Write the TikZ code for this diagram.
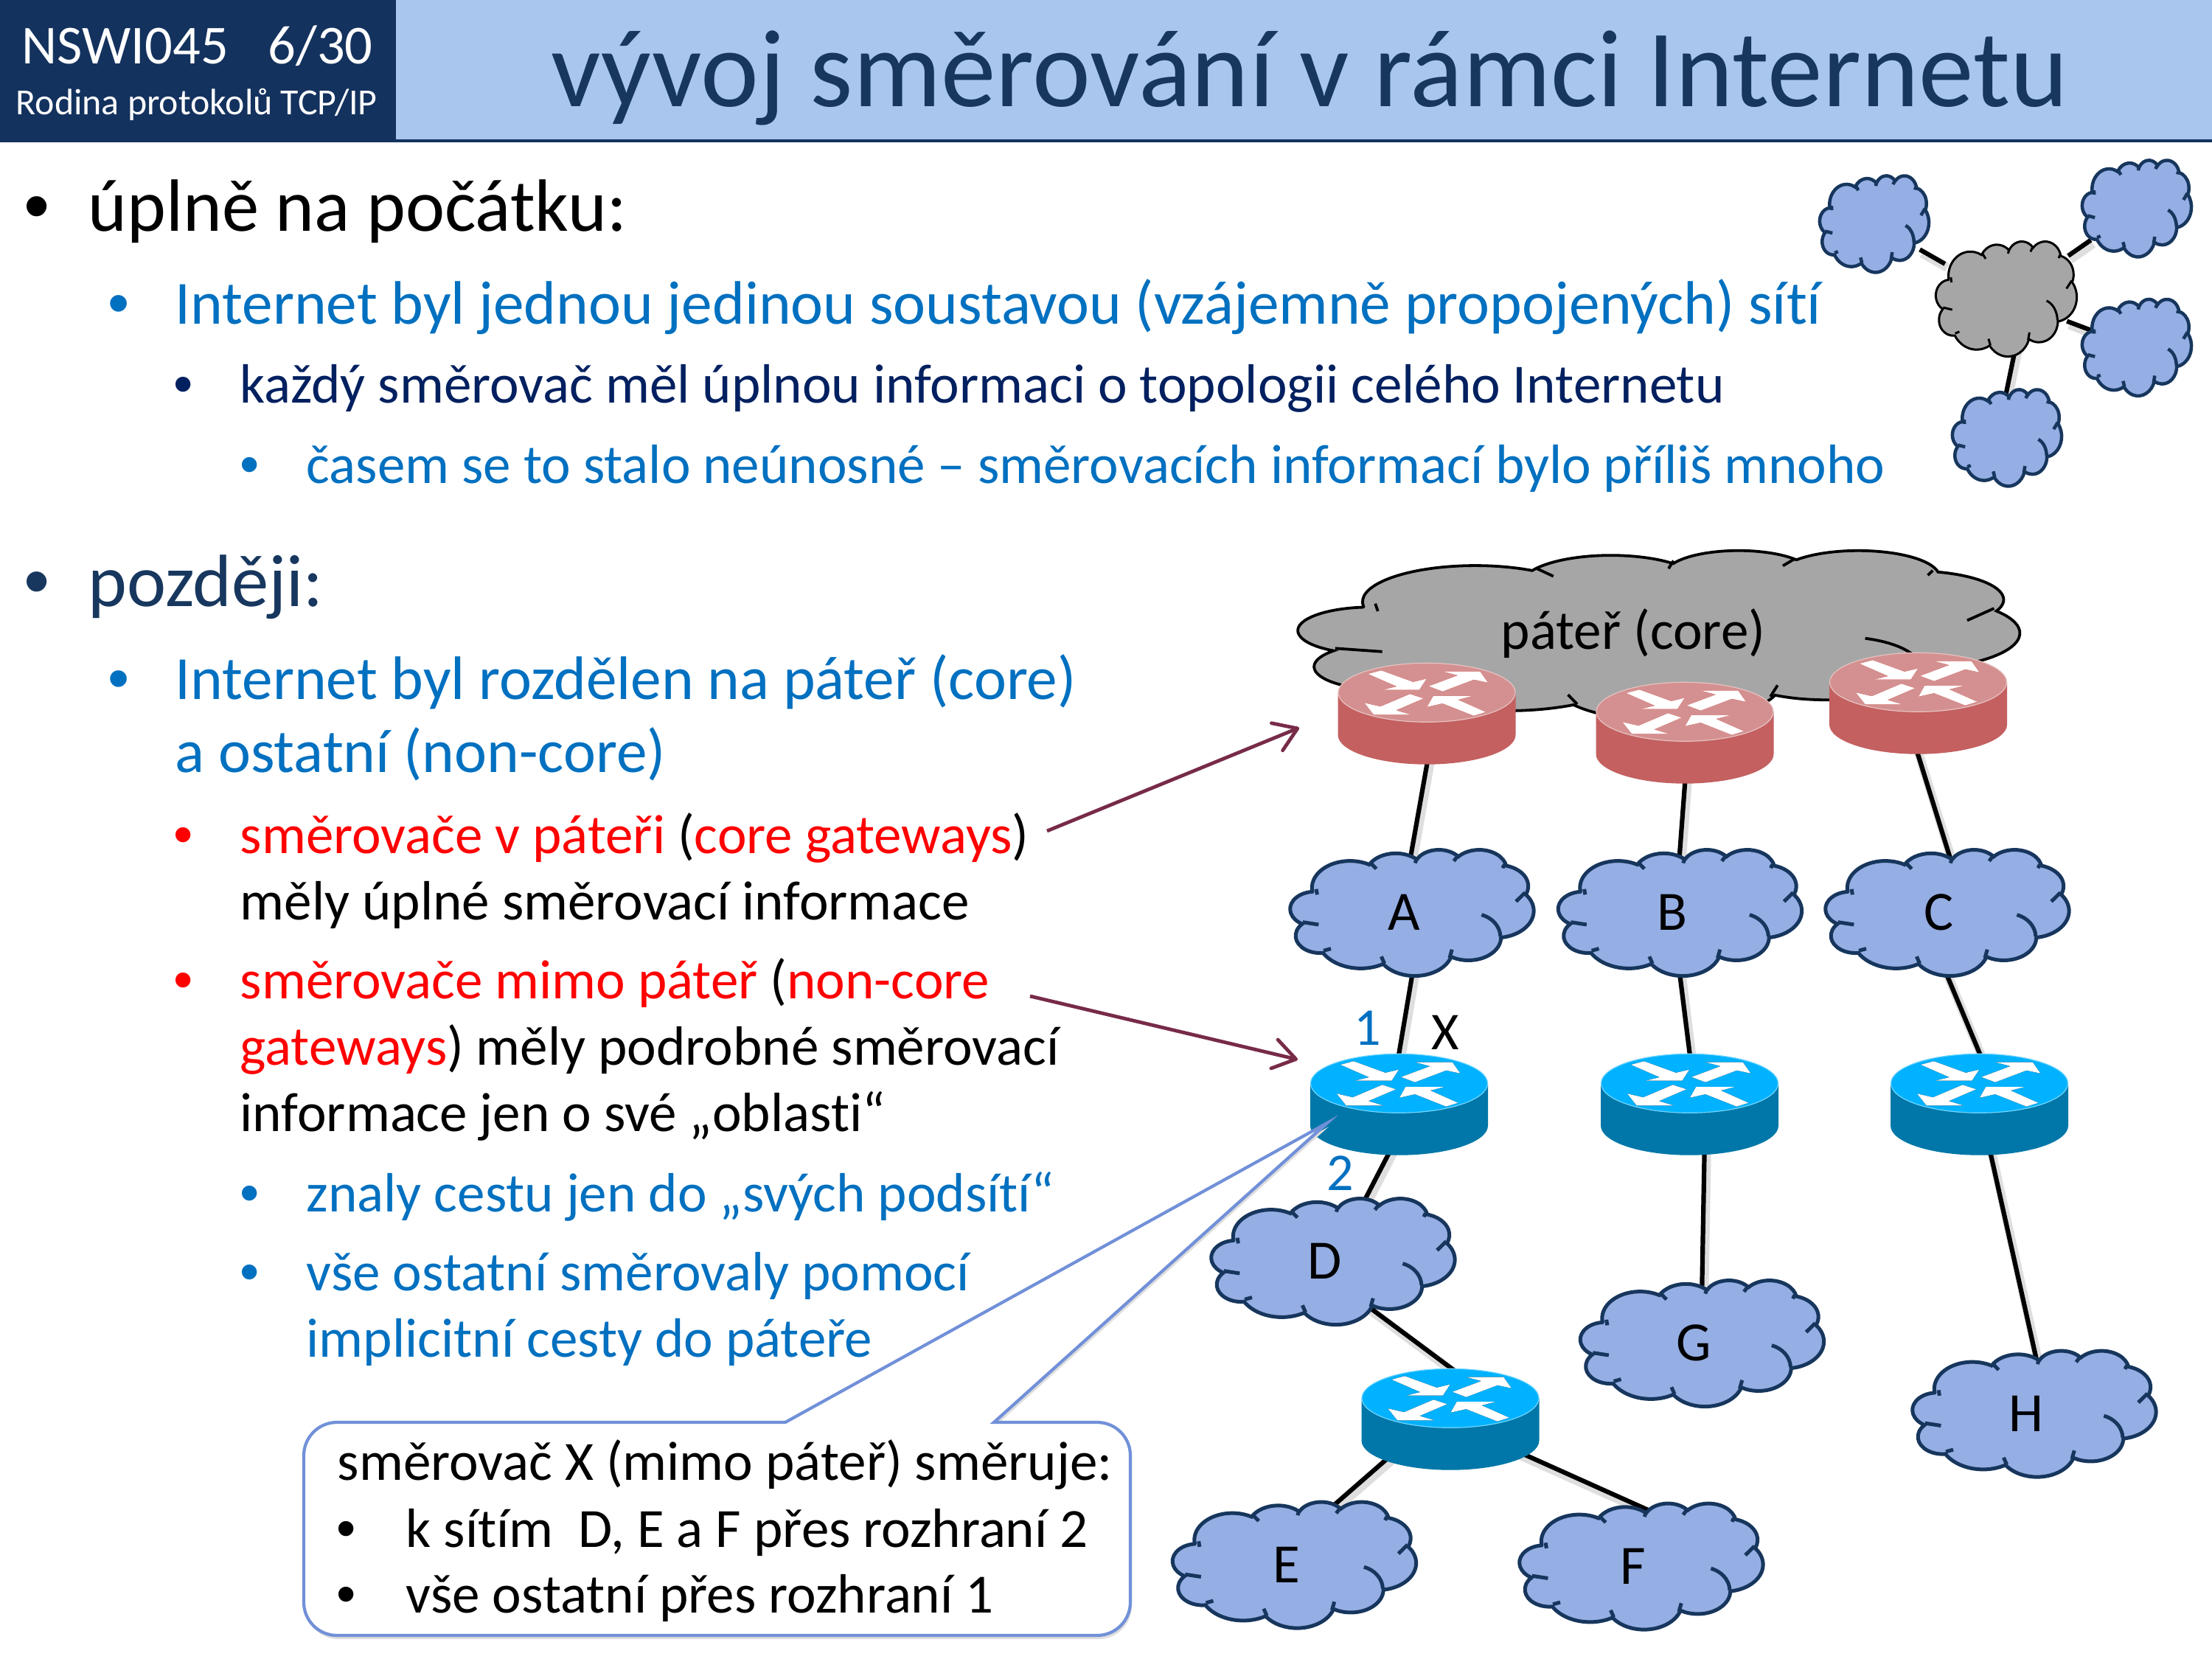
\documentclass[tikz,border=0pt]{standalone}
\usepackage{fontspec}
\setmainfont{Carlito}[Ligatures=CommonOff]
\newfontfamily\bulletfont{Liberation Sans}
\usetikzlibrary{arrows.meta,backgrounds}
\definecolor{headdark}{HTML}{14325E}
\definecolor{headlight}{HTML}{A9C6EE}
\definecolor{titlenavy}{HTML}{17375E}
\definecolor{textblue}{HTML}{0070C0}
\definecolor{textnavy}{HTML}{002060}
\definecolor{cloudblue}{HTML}{95AEE4}
\definecolor{cloudedge}{HTML}{17365D}
\definecolor{cloudgrey}{HTML}{A6A6A6}
\definecolor{edgetop}{HTML}{00B2FF}
\definecolor{edgeside}{HTML}{0077A8}
\definecolor{coretop}{HTML}{D49090}
\definecolor{coreside}{HTML}{C46060}
\definecolor{coremark}{HTML}{C00000}
\definecolor{pointer}{HTML}{772B48}
\definecolor{calloutline}{HTML}{7190D8}
\newcommand\cloudoutline{(-1.77,-.723)
  arc[x radius=.6753,y radius=.9190,start angle=-187.745,delta angle=128.105]
  arc[x radius=.5333,y radius=.7267,start angle=-152.02,delta angle=106.57]
  arc[x radius=.4365,y radius=.5945,start angle=-153.49,delta angle=116.16]
  arc[x radius=.4857,y radius=.6595,start angle=-139.71,delta angle=129.50]
  arc[x radius=.5333,y radius=.7273,start angle=-74.77,delta angle=97.98]
  arc[x radius=.6775,y radius=.9220,start angle=-37.52,delta angle=119.39]
  arc[x radius=.5785,y radius=.7867,start angle=.46,delta angle=121.52]
  arc[x radius=.6752,y radius=.9215,start angle=16.85,delta angle=129.39]
  arc[x radius=.7720,y radius=1.0543,start angle=58.98,delta angle=91.20]
  arc[x radius=.4360,y radius=.5918,start angle=83.31,delta angle=139.80]
  arc[x radius=.4345,y radius=.5945,start angle=120.35,delta angle=143.76] -- cycle}
\newcommand\cloudstubs{(-1.658,.417)--(-1.94,.333) (-1.44,1.24)--(-1.57,1.31) (-.545,1.51)--(-.49,1.75) (.71,1.27)--(.667,1.56)
  (1.235,.08) .. controls (1.42,.18) and (1.56,.46) .. (1.57,.82) (1.846,-.375)--(2.007,-.68)
  (1.61,-1.52)--(1.64,-1.64) (.742,-1.76)--(.81,-1.93) (.057,-1.69)--(.087,-1.89) (-.633,-1.495)--(-.74,-1.706) (-1.684,-.61)--(-1.70,-.8)}
\newcommand\routermarks{(-.795,.54)--(-.618,.587)--(-.185,.43)--(-.005,.473)--(-.102,.323)--(-.595,.323)--(-.405,.37)--cycle
  (.028,.373)--(.422,.52)--(.222,.573)--(.722,.573)--(.828,.423)--(.638,.463)--(.215,.303)--cycle
  (-.045,.207)--(-.228,.267)--(-.628,.097)--(-.845,.147)--(-.718,-.013)--(-.218,-.013)--(-.418,.047)--cycle
  (.798,.023)--(.422,.19)--(.615,.24)--(.088,.24)--(.005,.093)--(.215,.14)--(.638,-.027)--cycle}
\tikzset{
  pics/cloudshape/.style n args={5}{code={
    \begin{scope}[xscale=#1/4.32,yscale=-#2/4.32]
      \filldraw[fill=#3,draw=#4,line width=#5]\cloudoutline;
      \draw[draw=#4,line width=#5]\cloudstubs;
    \end{scope}}},
  pics/bignet/.style={code={\pic{cloudshape={3.30}{1.71}{cloudblue}{cloudedge}{.05cm}};}},
  pics/smallnet/.style={code={\pic{cloudshape={1.48}{1.31}{cloudblue}{cloudedge}{.045cm}};}},
  netlabel/.style={inner sep=0pt,minimum width=3.3cm,minimum height=1.71cm,font=\fontsize{21.4}{26}\selectfont},
  leaflabel/.style={inner sep=0pt,minimum width=1.48cm,minimum height=1.31cm},
  routerbox/.style n args={3}{inner sep=0pt,minimum width=2.42cm,minimum height=1.39cm,
    path picture={
      \fill[#2](-1.205,.287)--(-1.205,-.287) arc[x radius=1.205,y radius=.4,start angle=180,end angle=360]--(1.205,.287)--cycle;
      \filldraw[fill=#1,draw=#1!55!white,line width=.012cm](0,.287) ellipse[x radius=1.2,y radius=.4];
      \fill[#3,yshift=.012cm]\routermarks;
      \fill[white]\routermarks;
    }},
  corerouter/.style={routerbox={coretop}{coreside}{coremark}},
  edgerouter/.style={routerbox={edgetop}{edgeside}{black}},
  link/.style={line width=.062cm,shorten >=-.15cm,shorten <=-.15cm,
    preaction={draw=black!13,line width=.12cm,transform canvas={shift={(.03cm,-.05cm)}}}},
  pointerline/.style={pointer,line width=.048cm,-{Straight Barb[length=.3cm,width=.4cm,round]}},
  calloutbox/.style={draw=calloutline,fill=white,line width=.042cm,
    preaction={fill=black!13,transform canvas={shift={(.02cm,-.05cm)}}}},
  linetext/.style={inner sep=0pt,anchor=base west},
  levelone/.style={linetext,font=\fontsize{28.6}{34}\selectfont},
  leveltwo/.style={linetext,text=textblue,font=\fontsize{23.7}{28}\selectfont},
  levelthree/.style={linetext,font=\fontsize{21.36}{26}\selectfont},
  levelfour/.style={linetext,text=textblue,font=\fontsize{21.36}{26}\selectfont},
}
\begin{document}
\begin{tikzpicture}
\useasboundingbox(0,0) rectangle (30,-22.5);
% header
\fill[headlight](5.36,0) rectangle (30,-1.89);
\fill[headdark](0,-1.89) rectangle (30,-1.93);
\fill[headdark](0,0) rectangle (5.37,-1.93);
\node[linetext,text=white,font=\fontsize{21.2}{24}\selectfont](course)at(.29,-.87){NSWI045\hspace{.72em}6/30};
\node[linetext,text=white,font=\fontsize{14.2}{18}\selectfont](family)at(.21,-1.56){Rodina protokolů TCP/IP};
\node[inner sep=0pt,anchor=base,text=titlenavy,font=\fontsize{42.5}{50}\selectfont](title)at(17.76,-1.45){vývoj směrování v rámci Internetu};
% text lines
\node[levelone](early)at(1.19,-3.14){úplně na počátku:};
\node[leveltwo](earlyA)at(2.37,-4.40){Internet byl jednou jedinou soustavou (vzájemně propojených) sítí};
\node[levelthree,text=textnavy](earlyB)at(3.25,-5.47){každý směrovač měl úplnou informaci o topologii celého Internetu};
\node[levelfour](earlyC)at(4.15,-6.56){časem se to stalo neúnosné – směrovacích informací bylo příliš mnoho};
\node[levelone,text=titlenavy](later)at(1.19,-8.23){později:};
\node[leveltwo](laterA)at(2.37,-9.49){Internet byl rozdělen na páteř (core)};
\node[leveltwo](laterB)at(2.37,-10.48){a ostatní (non-core)};
\node[levelthree](coreA)at(3.25,-11.57){\textcolor{red}{směrovače v páteři} (\textcolor{red}{core gateways})};
\node[levelthree](coreB)at(3.25,-12.47){měly úplné směrovací informace};
\node[levelthree](nonA)at(3.25,-13.54){\textcolor{red}{směrovače mimo páteř} (\textcolor{red}{non-core}};
\node[levelthree](nonB)at(3.25,-14.44){\textcolor{red}{gateways}) měly podrobné směrovací};
\node[levelthree](nonC)at(3.25,-15.34){informace jen o své „oblasti“};
\node[levelfour](pathA)at(4.15,-16.43){znaly cestu jen do „svých podsítí“};
\node[levelfour](pathB)at(4.15,-17.50){vše ostatní směrovaly pomocí};
\node[levelfour](pathC)at(4.15,-18.40){implicitní cesty do páteře};
% small clouds
\pic at(27.21,-4.05){cloudshape={1.91}{1.56}{cloudgrey}{black}{.03cm}};
\node[inner sep=0pt,minimum width=1.91cm,minimum height=1.56cm](hub)at(27.21,-4.05){};
\foreach\n/\x/\y in{leafW/25.42/-3.035,leafN/28.98/-2.825,leafE/28.98/-4.71,leafS/27.22/-5.935}
  {\pic at(\x,\y){smallnet};\node[leaflabel](\n)at(\x,\y){};}
% core
\pic at(22.50,-8.615){cloudshape={9.78}{2.31}{cloudgrey}{black}{.038cm}};
\node[inner sep=0pt,anchor=base,font=\fontsize{21.36}{26}\selectfont](backbone)at(22.15,-8.81){páteř (core)};
\node[corerouter](routerA)at(19.35,-9.68){};
\node[corerouter](routerB)at(22.85,-9.94){};
\node[corerouter](routerC)at(26.015,-9.54){};
% networks
\foreach\n/\x/\y/\t in{netA/19.15/-12.375/A,netB/22.785/-12.375/B,netC/26.41/-12.375/C,netD/18.08/-17.105/D,
  netG/23.085/-18.215/G,netH/27.59/-19.17/H,netE/17.555/-21.22/E,netF/22.26/-21.24/F}
  {\pic at(\x,\y){bignet};\node[netlabel](\n)at(\x,\y){\t\kern.22cm};}
\node[edgerouter](routerX)at(18.975,-14.98){};
\node[edgerouter](routerY)at(22.915,-14.98){};
\node[edgerouter](routerZ)at(26.845,-14.98){};
\node[edgerouter](routerW)at(19.67,-19.25){};
\node[inner sep=0pt,anchor=base,text=textblue,font=\fontsize{20.5}{24}\selectfont](ifOne)at(18.55,-14.175){1};
\node[inner sep=0pt,anchor=base,font=\fontsize{20.5}{24}\selectfont](nameX)at(19.60,-14.23){X};
\node[inner sep=0pt,anchor=base,text=textblue,font=\fontsize{20.5}{24}\selectfont](ifTwo)at(18.18,-16.14){2};
% pointers and callout
\coordinate(fromCore)at(14.20,-11.27);\coordinate(toCore)at(17.62,-9.87);
\coordinate(fromNon)at(13.97,-13.51);\coordinate(toNon)at(17.60,-14.37);
\draw[pointerline](fromCore)--(toCore);
\draw[pointerline](fromNon)--(toNon);
\coordinate(calloutTip)at(18.00,-15.23);
\draw[calloutbox](calloutTip)--(13.48,-19.29)[rounded corners=.45cm]--(15.33,-19.29)--(15.33,-22.18)--(4.12,-22.18)--(4.12,-19.29)[sharp corners]--(10.65,-19.29)--cycle;
\node[levelthree](calloutHead)at(4.57,-20.07){směrovač X (mimo páteř) směruje:};
\node[levelthree](calloutOne)at(5.50,-20.98){k sítím\hspace{.45em}D, E a F přes rozhraní 2};
\node[levelthree](calloutTwo)at(5.50,-21.87){vše ostatní přes rozhraní 1};
% bullets
\foreach\i/\x/\y/\s/\c in{1/.5/3.14/28.6/black,2/1.61/4.40/23.7/textblue,3/2.49/5.47/21.36/textnavy,4/3.39/6.56/21.36/textblue,
  5/.5/8.23/28.6/titlenavy,6/1.61/9.49/23.7/textblue,7/2.49/11.57/21.36/red,8/2.49/13.54/21.36/red,9/3.39/16.43/21.36/textblue,10/3.39/17.50/21.36/textblue,
  11/4.70/20.98/21.36/black,12/4.70/21.87/21.36/black}
  {\node[inner sep=0pt,anchor=base,text=\c,font=\bulletfont\fontsize{\s}{\s}\selectfont](mark\i)at(\x,-\y){•};}
% connectors under everything
\begin{pgfonlayer}{background}
\draw[link](leafW)--(hub);\draw[link](hub)--(leafN);\draw[link](hub)--(leafE);
\draw[link]([xshift=.1cm]hub.south)--(leafS.north);
\draw[link](routerA.south)--(netA.north);
\draw[link](routerB.south)--(netB.north);
\draw[link](routerC.south)--(netC.north);
\draw[link](netA.south)--(routerX.north);
\draw[link](netB.south)--(routerY.north);
\draw[link](netC.south)--(routerZ.north);
\draw[link]([xshift=-.16cm]routerX.south)--(netD);
\draw[link]([xshift=.2cm]routerY.south)--(netG.north);
\draw[link]([xshift=.16cm]routerZ.south)--(netH.north);
\draw[link]([shift={(.54,.2)}]netD.south)--(routerW.north);
\draw[link]([shift={(-.89,.14)}]routerW.south)--([xshift=.6cm]netE.north);
\draw[link]([shift={(1.06,.2)}]routerW.south)--([yshift=-.06cm]netF.north);
\end{pgfonlayer}
\end{tikzpicture}
\end{document}
